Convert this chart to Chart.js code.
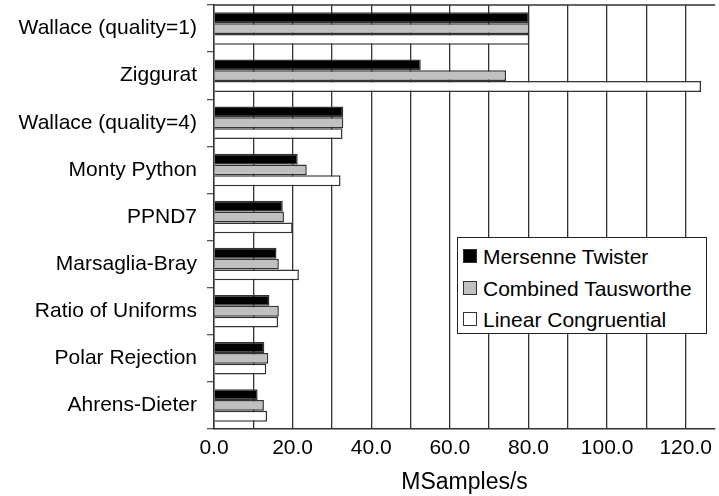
<!DOCTYPE html>
<html>
<head>
<meta charset="utf-8">
<script src="https://cdn.jsdelivr.net/npm/chart.js@4"></script>
<style>
  html, body { margin: 0; padding: 0; background: #fff; }
  #wrap { position: relative; width: 719px; height: 496px; }
  #legend {
    position: absolute; left: 457px; top: 237px; width: 250px; height: 97px;
    border: 1.5px solid #222; background: #fff; box-sizing: border-box;
    font-family: "Liberation Sans", Arial, sans-serif; font-size: 21px; color: #000;
    padding-top: 3px;
  }
  #legend div { height: 31.5px; line-height: 31.5px; white-space: nowrap; }
  #legend span.box {
    display: inline-block; width: 12px; height: 12px; margin: 0 6px 0 5px;
    border: 1px solid #333; vertical-align: middle; position: relative; top: -2px;
  }
</style>
</head>
<body>
<div id="wrap">
  <canvas id="chart" width="719" height="496"></canvas>
  <div id="legend"></div>
</div>
<script>
const methods = ['Wallace (quality=1)', 'Ziggurat', 'Wallace (quality=4)', 'Monty Python', 'PPND7',
  'Marsaglia-Bray', 'Ratio of Uniforms', 'Polar Rejection', 'Ahrens-Dieter'];

const mersenneTwister = [80.2, 52.6, 32.9, 21.3, 17.5, 15.9, 14.1, 12.8, 11.1];
const combinedTausworthe = [80.2, 74.3, 32.9, 23.6, 17.8, 16.5, 16.5, 13.8, 12.7];
const linearCongruential = [80.2, 123.9, 32.7, 32.2, 20.0, 21.6, 16.3, 13.3, 13.5];

const fontFamily = '"Liberation Sans", Arial, sans-serif';

// draws the frame line along the top of the plot
const topBorder = {
  id: 'topBorder',
  afterDraw(chart) {
    const { ctx, chartArea } = chart;
    ctx.save();
    ctx.strokeStyle = '#333';
    ctx.lineWidth = 1.3;
    ctx.beginPath();
    ctx.moveTo(chartArea.left - 1, chartArea.top);
    ctx.lineTo(chartArea.right, chartArea.top);
    ctx.stroke();
    ctx.restore();
  }
};

const chart = new Chart(document.getElementById('chart').getContext('2d'), {
  type: 'bar',
  data: {
    labels: methods,
    datasets: [
      { label: 'Mersenne Twister', data: mersenneTwister, backgroundColor: '#000000' },
      { label: 'Combined Tausworthe', data: combinedTausworthe, backgroundColor: '#c0c0c0' },
      { label: 'Linear Congruential', data: linearCongruential, backgroundColor: '#ffffff' }
    ]
  },
  options: {
    indexAxis: 'y',
    responsive: false,
    animation: false,
    layout: { padding: { top: 5, right: 1, left: 0, bottom: 0 } },
    datasets: {
      bar: {
        borderColor: '#333',
        borderWidth: 1.5,
        categoryPercentage: 0.69,
        barPercentage: 1
      }
    },
    plugins: {
      legend: { display: false },
      tooltip: { enabled: false }
    },
    scales: {
      x: {
        min: 0,
        max: 127.5,
        afterFit(scale) { scale.height = 67; },
        border: { color: '#333', width: 1.5 },
        grid: { color: '#333', lineWidth: 1.3, drawTicks: false },
        ticks: {
          stepSize: 10,
          includeBounds: false,
          autoSkip: false,
          maxRotation: 0,
          padding: 7,
          color: '#000',
          font: { family: fontFamily, size: 21 },
          callback: v => (v % 20 === 0 ? v.toFixed(1) : '')
        },
        title: {
          display: true,
          text: 'MSamples/s',
          color: '#000',
          padding: { top: 5, bottom: 0 },
          font: { family: fontFamily, size: 23 }
        }
      },
      y: {
        afterFit(scale) {
          scale.width = 214;
          scale.paddingTop = 0;
          scale.paddingBottom = 0;
        },
        border: { color: '#333', width: 1.5 },
        grid: { drawOnChartArea: false, tickLength: 7, color: '#555', lineWidth: 1.3 },
        ticks: {
          padding: 10,
          color: '#000',
          font: { family: fontFamily, size: 21 }
        }
      }
    }
  },
  plugins: [topBorder]
});

// legend built from the chart's datasets
const legendEl = document.getElementById('legend');
chart.data.datasets.forEach(ds => {
  const row = document.createElement('div');
  const box = document.createElement('span');
  box.className = 'box';
  box.style.background = ds.backgroundColor;
  row.appendChild(box);
  row.appendChild(document.createTextNode(ds.label));
  legendEl.appendChild(row);
});
</script>
</body>
</html>
